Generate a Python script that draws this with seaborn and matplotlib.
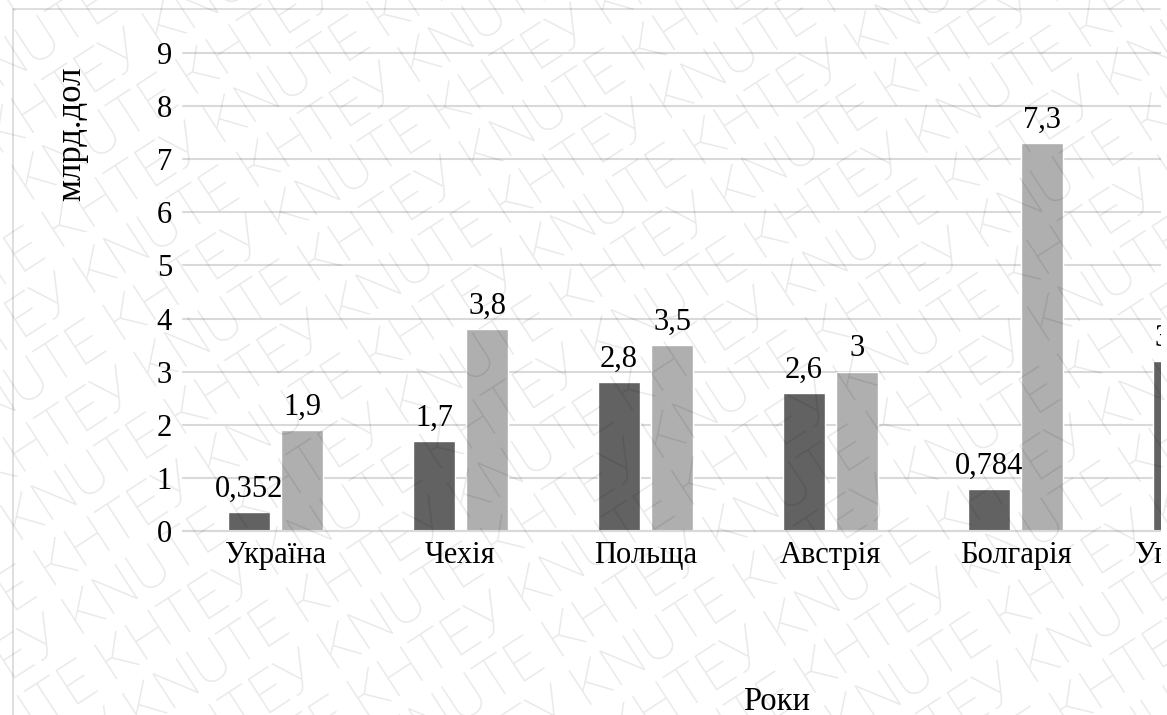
import numpy as np
import pandas as pd
import matplotlib
matplotlib.use("Agg")
import matplotlib.pyplot as plt
from matplotlib.patches import Rectangle
from matplotlib.lines import Line2D
import seaborn as sns

# --- data -------------------------------------------------------------
countries = ["Україна", "Чехія", "Польща", "Австрія", "Болгарія", "Угорщина"]
series_names = ["Ряд 1", "Ряд 2"]
values_first = [0.352, 1.7, 2.8, 2.6, 0.784, 3.2]
values_second = [1.9, 3.8, 3.5, 3.0, 7.3]          # last country not shown
y_ticks = [0, 1, 2, 3, 4, 5, 6, 7, 8, 9]
y_title = "млрд.дол"
x_title = "Роки"
watermark_words = ["KNUTE", "КНТЕУ"]

# --- style ------------------------------------------------------------
sns.set_style("white")
plt.rcParams["font.family"] = ["Liberation Serif", "DejaVu Serif"]
FS = 22
DARK = "#626262"
LIGHT = "#afafaf"
GRID = "#d9d9d9"

rows = []
for c, v in zip(countries, values_first):
    rows.append({"Країна": c, "Ряд": series_names[0], "Значення": v})
for c, v in zip(countries, values_second):
    rows.append({"Країна": c, "Ряд": series_names[1], "Значення": v})
df = pd.DataFrame(rows)

W, H = 1167, 715
fig = plt.figure(figsize=(W / 100, H / 100), dpi=100)
fig.patch.set_facecolor("white")

# plot area runs past the right edge of the figure
left_px, right_px, top_px, bottom_px = 183, 183 + 6 * 185, 53, 531
ax = fig.add_axes([left_px / W, (H - bottom_px) / H,
                   (right_px - left_px) / W, (bottom_px - top_px) / H])

sns.barplot(data=df, x="Країна", y="Значення", hue="Ряд",
            order=countries, hue_order=series_names,
            palette=[DARK, LIGHT], saturation=1, errorbar=None,
            width=0.573, gap=0.2, legend=False, ax=ax)

ax.set_xlim(-0.5, len(countries) - 0.5)
ax.set_ylim(0, 9)
ax.set_yticks(y_ticks)
ax.set_yticklabels([str(t) for t in y_ticks])
ax.set_axisbelow(True)
ax.yaxis.grid(True, color=GRID, linewidth=1.5)
for gl in ax.get_ygridlines():
    gl.set_clip_on(False)
ax.xaxis.grid(False)
for side in ["left", "right", "top"]:
    ax.spines[side].set_visible(False)
ax.spines["bottom"].set_color(GRID)
ax.spines["bottom"].set_linewidth(1.5)
ax.tick_params(axis="both", length=0, labelsize=FS, colors="black")
ax.tick_params(axis="y", pad=8)
ax.tick_params(axis="x", pad=7)
ax.set_xlabel("")
ax.set_ylabel("")
ax.set_facecolor("none")


def fmt(v):
    return f"{v:g}".replace(".", ",")


for cont in ax.containers:
    ax.bar_label(cont, labels=[fmt(v) for v in cont.datavalues],
                 padding=6, fontsize=FS, color="black")

# axis titles
fig.text(72 / W, 1 - 134 / H, y_title, rotation=90, ha="center", va="center",
         fontsize=25, color="black")
fig.text(777 / W, 5 / H, x_title, ha="center", va="baseline",
         fontsize=23.5, color="black")

# chart frame (left and top edges visible)
fig.add_artist(Line2D([12.5 / W, 12.5 / W], [0, 1 - 8.5 / H],
                      transform=fig.transFigure, color=GRID, lw=1.2, zorder=40))
fig.add_artist(Line2D([12.5 / W, 1160 / W], [1 - 8.5 / H, 1 - 8.5 / H],
                      transform=fig.transFigure, color=GRID, lw=1.2, zorder=40))

# blank strip at the right edge
fig.add_artist(Rectangle((1161 / W, 0), 6 / W, 1, transform=fig.transFigure,
                         facecolor="white", edgecolor="none", zorder=50))

# diagonal watermark
angle = 33
theta = np.deg2rad(angle)
row_text = " ".join(watermark_words * 12)
row_text_b = " ".join((watermark_words[::-1]) * 12)
spacing = 56
cx, cy = W / 2, H / 2
nx, ny = -np.sin(theta), np.cos(theta)
for k in range(-16, 17):
    px = cx + k * spacing * nx
    py = cy + k * spacing * ny
    txt = row_text if k % 2 == 0 else row_text_b
    fig.text(px / W, py / H, txt, rotation=angle, rotation_mode="anchor",
             ha="center", va="center", fontsize=41, fontweight="light",
             family=["Roboto", "Liberation Sans", "DejaVu Sans"],
             color="#000000", alpha=0.09, zorder=100)

fig.savefig("out.png", dpi=100, facecolor="white")
